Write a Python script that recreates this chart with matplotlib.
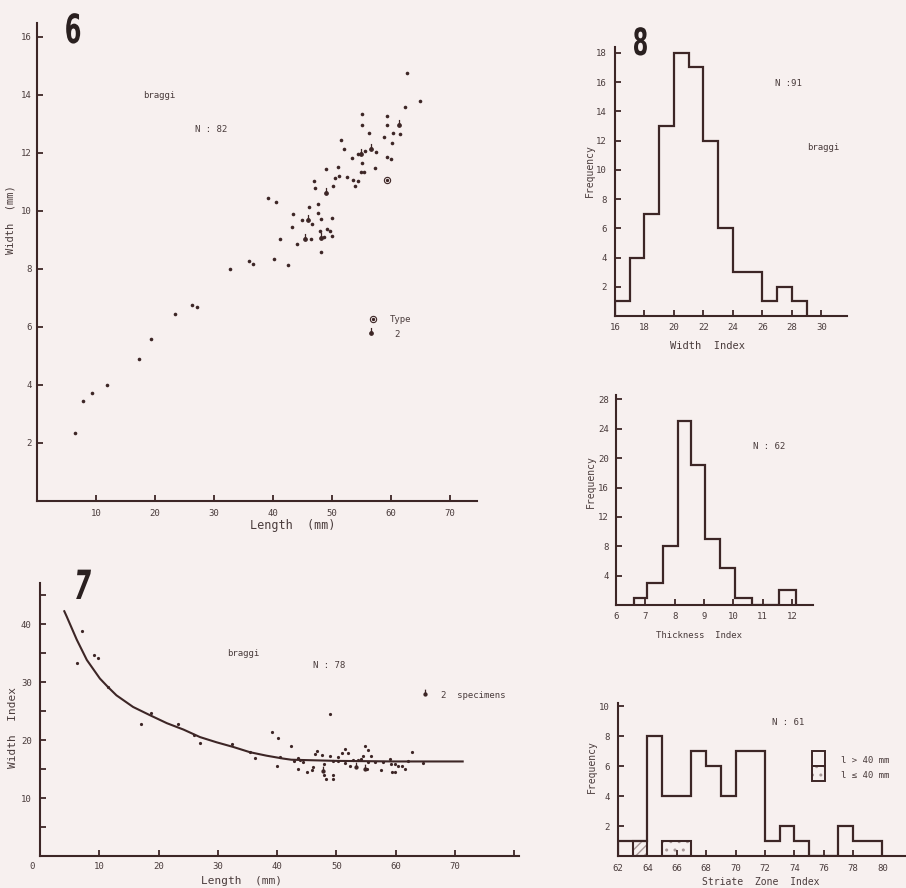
"""Shell measurements for braggi: width/length scatter, width index vs length,
and frequency histograms of width, thickness and striate zone indices."""

import matplotlib.pyplot as plt
import numpy as np
from matplotlib import patheffects
from matplotlib.path import Path
from matplotlib.patches import Rectangle
from matplotlib.transforms import Affine2D

OUT = "out.png"
W, H = 906, 888
BG = "#f7f0ef"
INK = "#3d2626"
TXT = "#4a3c3c"

plt.rcParams["font.family"] = ["DejaVu Sans Mono", "DejaVu Sans"]

# --- Fig. 6: width vs length (mm) ---
pts6 = [(6.4, 2.34), (7.8, 3.45), (9.4, 3.72), (11.8, 4.01), (17.3, 4.89), (19.3, 5.57),
        (23.4, 6.44), (26.3, 6.75), (27.2, 6.68), (32.7, 8.0), (35.9, 8.28), (36.7, 8.17),
        (40.2, 8.34), (41.2, 9.02), (42.5, 8.14), (44.0, 8.86), (39.1, 10.44), (40.6, 10.3),
        (43.4, 9.88), (43.3, 9.46), (62.8, 14.77), (65.0, 13.8), (62.4, 13.58), (55.1, 13.33),
        (59.3, 13.28), (55.1, 12.98), (59.4, 12.97), (56.3, 12.7), (60.4, 12.7), (61.5, 12.67),
        (58.8, 12.56), (51.5, 12.46), (60.2, 12.33), (52.1, 12.15), (55.6, 12.07), (57.5, 12.03),
        (54.4, 11.95), (53.4, 11.83), (59.4, 11.86), (60.0, 11.78), (55.1, 11.64), (51.1, 11.53),
        (49.0, 11.43), (57.3, 11.47), (54.9, 11.33), (55.5, 11.36), (51.2, 11.22), (52.5, 11.16),
        (50.5, 11.13), (53.6, 11.07), (54.5, 11.02), (47.0, 11.02), (53.9, 10.85), (50.2, 10.87),
        (47.2, 10.78), (47.6, 10.23), (46.2, 10.14), (47.7, 9.92), (50.1, 9.76), (45.0, 9.69),
        (48.1, 9.72), (46.6, 9.54), (48.0, 9.32), (49.2, 9.39), (49.7, 9.32), (50.1, 9.13),
        (48.6, 9.1), (46.4, 9.04), (48.1, 8.6)]
pairs6 = [(61.3, 12.98), (56.7, 12.15), (55.0, 11.98), (49.0, 10.61), (46.0, 9.69),
          (48.2, 9.06), (45.5, 9.02)]
type6 = (59.3, 11.07)

# --- Fig. 7: width index vs length, with fitted curve ---
pts7 = [(6.2, 33.3), (7.1, 38.8), (9.1, 34.7), (9.8, 34.1), (11.5, 29.1), (17.1, 22.8),
        (18.7, 24.6), (23.2, 22.7), (25.9, 20.8), (27.0, 19.5), (32.4, 19.3), (35.5, 17.9),
        (36.3, 16.9), (39.2, 21.4), (40.2, 20.4), (40.5, 17.0), (39.9, 15.6), (42.3, 18.9),
        (42.9, 16.3), (43.5, 16.9), (43.6, 15.0), (43.8, 16.5), (44.4, 16.2), (45.0, 14.4),
        (45.8, 14.8), (46.1, 15.3), (46.4, 17.6), (46.8, 18.1), (47.5, 17.5), (47.9, 15.9),
        (47.9, 14.0), (48.3, 13.3), (48.9, 17.3), (48.9, 24.4), (49.4, 16.3), (49.5, 14.0),
        (49.5, 13.3), (50.3, 16.3), (50.3, 17.0), (50.9, 17.7), (51.4, 18.5), (51.4, 16.0),
        (52.0, 17.7), (52.3, 15.6), (52.8, 16.5), (53.7, 16.5), (54.2, 16.8), (54.5, 17.3),
        (54.9, 18.9), (55.3, 18.2), (55.3, 16.2), (55.2, 15.0), (55.9, 17.3), (56.5, 16.2),
        (57.5, 14.8), (57.9, 16.2), (59.0, 16.8), (59.2, 15.9), (59.3, 14.4), (59.9, 14.4),
        (59.9, 15.9), (60.4, 15.6), (61.0, 15.6), (61.6, 15.0), (62.1, 16.3), (62.8, 18.0),
        (64.6, 16.0)]
pairs7 = [(53.3, 15.3), (54.8, 15.0), (47.8, 14.7)]
curve_x = [4.1, 4.5, 6.2, 7.9, 10.1, 11.5, 12.9, 15.7, 18.5, 21.4, 24.2, 27.0, 29.8,
           32.6, 35.4, 38.2, 41.0, 42.4, 50.0, 60.0, 71.3]
curve_y = [42.2, 41.3, 37.3, 33.8, 30.6, 29.1, 27.7, 25.7, 24.3, 22.9, 21.8, 20.5, 19.6,
           18.8, 17.9, 17.3, 16.8, 16.6, 16.4, 16.3, 16.3]

# --- Fig. 8: histograms ---
width_edges = [16, 17, 18, 19, 20, 21, 22, 23, 24, 25, 26, 27, 28, 29]
width_counts = [1, 4, 7, 13, 18, 17, 12, 6, 3, 3, 1, 2, 1]

thick_edges = [6.6, 7.05, 7.6, 8.1, 8.55, 9.05, 9.55, 10.05, 10.65, 11.55, 12.15]
thick_counts = [1, 3, 8, 25, 19, 9, 5, 1, 0, 2]

striate_edges = list(range(62, 81))
striate_counts = [1, 1, 8, 4, 4, 7, 6, 4, 7, 7, 1, 2, 1, 0, 0, 2, 1, 1]
small_left = [63, 65]          # l <= 40 mm
small_right = [64, 67]
small_counts = [1, 1]
small_hatch = ["////", ".."]


class Squeeze(patheffects.AbstractPathEffect):
    """Narrow a text path horizontally about its own centre."""

    def __init__(self, sx):
        super().__init__()
        self.sx = sx

    def draw_path(self, renderer, gc, tpath, affine, rgbFace=None):
        ext = tpath.get_extents(affine)
        cx = 0.5 * (ext.x0 + ext.x1)
        sq = Affine2D().translate(-cx, 0).scale(self.sx, 1).translate(cx, 0)
        renderer.draw_path(gc, tpath, affine + sq, rgbFace)


# dot with a short stem = 2 specimens
_stem = Path.make_compound_path(Path.unit_circle(),
                                Path([(0, 0), (0, 3.2)], [Path.MOVETO, Path.LINETO]))

fig = plt.figure(figsize=(W / 100, H / 100), dpi=100, facecolor=BG)


def add_axes(x0, x1, yb, yt):
    return fig.add_axes([x0 / W, 1 - yb / H, (x1 - x0) / W, (yb - yt) / H])


def style(ax, padx, pady):
    ax.set_facecolor("none")
    for s in ("top", "right"):
        ax.spines[s].set_visible(False)
    for s in ("left", "bottom"):
        ax.spines[s].set_color(INK)
        ax.spines[s].set_linewidth(1.5)
    ax.tick_params(direction="in", length=4, width=1.3, color=INK,
                   labelcolor=TXT, labelsize=6.5)
    ax.tick_params(axis="x", pad=padx)
    ax.tick_params(axis="y", pad=pady)


def label(ax, xlab, xpos, xsize, ylab, ypos, ysize):
    ax.set_xlabel(xlab, fontsize=xsize, color=TXT, va="center")
    ax.xaxis.set_label_coords(xpos[0] / W, 1 - xpos[1] / H, transform=fig.transFigure)
    ax.set_ylabel(ylab, fontsize=ysize, color=TXT, va="center")
    ax.yaxis.set_label_coords(ypos[0] / W, 1 - ypos[1] / H, transform=fig.transFigure)


def note(x, y, s, size=6.5):
    fig.text(x / W, 1 - y / H, s, ha="left", va="center", fontsize=size, color=TXT)


def panel_no(x, y, s, size, sx, style_="normal"):
    fig.text(x / W, 1 - y / H, s, ha="center", va="baseline", fontsize=size,
             family="DejaVu Sans", weight="bold", style=style_, color="#2a2020",
             path_effects=[Squeeze(sx)])


def dots(ax, pts, ms=2.6):
    x, y = np.array(pts).T
    ax.plot(x, y, "o", ms=ms, color=INK, mec="none", clip_on=False)


def pair_marks(ax, pts, ms=8):
    x, y = np.array(pts).T
    ax.plot(x, y, ls="none", marker=_stem, ms=ms, color=INK, mew=0.9, clip_on=False)


# --- Fig. 6 ---
ax6 = add_axes(37, 477, 501, 23)
ax6.set_xlim(0, 74.6)
ax6.set_ylim(0, 16.48)
style(ax6, 6, 4)
ax6.set_xticks(range(10, 80, 10))
ax6.set_yticks(range(2, 18, 2))
dots(ax6, pts6)
pair_marks(ax6, pairs6)
ax6.plot(*type6, "o", ms=4.5, mfc="none", mec=INK, mew=0.8)
ax6.plot(*type6, "o", ms=1.4, color=INK)
ax6.plot(56.9, 6.27, "o", ms=4.5, mfc="none", mec=INK, mew=0.8)
ax6.plot(56.9, 6.27, "o", ms=1.4, color=INK)
pair_marks(ax6, [(56.7, 5.78)])
ax6.text(59.8, 6.27, "Type", fontsize=6.5, color=TXT, va="center")
ax6.text(60.5, 5.75, "2", fontsize=6.5, color=TXT, va="center")
label(ax6, "Length  (mm)", (293, 526), 8.5, "Width  (mm)", (11, 220), 7.5)
note(143, 95, "braggi")
note(195, 130, "N : 82")
panel_no(73, 43, "6", 29, 0.6)

# --- Fig. 7 ---
ax7 = add_axes(40, 519, 856, 583)
ax7.set_xlim(0, 80.8)
ax7.set_ylim(0, 47.07)
style(ax7, 4, 6)
ax7.set_xticks(range(10, 90, 10), [str(v) for v in range(10, 80, 10)] + [""])
ax7.set_yticks(range(5, 50, 5), ["" if v % 10 else str(v) for v in range(5, 50, 5)])
ax7.plot(curve_x, curve_y, color=INK, lw=1.5)
dots(ax7, pts7, ms=2.3)
pair_marks(ax7, pairs7, ms=7)
pair_marks(ax7, [(64.9, 27.9)], ms=7)
ax7.text(67.7, 27.7, "2  specimens", fontsize=6.5, color=TXT, va="center")
label(ax7, "Length  (mm)", (242, 881), 8, "Width  Index", (13, 727), 8)
note(29, 866, "0")
note(227, 653, "braggi")
note(313, 665, "N : 78")
panel_no(82, 599, "7", 29, 0.6, "oblique")

# --- Fig. 8: width index ---
ax8 = add_axes(615, 847, 316, 47)
ax8.set_xlim(16, 31.73)
ax8.set_ylim(0, 18.4)
style(ax8, 5, 6)
ax8.set_xticks(range(16, 32, 2))
ax8.set_yticks(range(2, 20, 2))
ax8.stairs(width_counts, width_edges, color=INK, lw=1.6)
label(ax8, "Width  Index", (708, 346), 7.5, "Frequency", (590, 171), 7)
note(775, 84, "N :91")
note(807, 147, "braggi")
panel_no(640.5, 55, "8", 27, 0.6)

# thickness index
ax9 = add_axes(616, 813, 605, 395)
ax9.set_xlim(6, 12.72)
ax9.set_ylim(0, 28.6)
style(ax9, 5, 5)
ax9.set_xticks(range(6, 13))
ax9.set_yticks(range(4, 29, 4))
ax9.stairs(thick_counts, thick_edges, color=INK, lw=1.6)
label(ax9, "Thickness  Index", (699, 635), 6.5, "Frequency", (591, 482), 7)
note(753, 446, "N : 62")

# striate zone index
ax10 = add_axes(618, 906, 856, 703)
ax10.set_xlim(62, 81.6)
ax10.set_ylim(0, 10.2)
style(ax10, 6, 6)
ax10.set_xticks(range(62, 82, 2))
ax10.set_yticks(range(2, 11, 2))
ax10.stairs(striate_counts, striate_edges, color=INK, lw=1.6)
for x0, x1, c, hp in zip(small_left, small_right, small_counts, small_hatch):
    ax10.add_patch(Rectangle((x0, 0), x1 - x0, c, fill=False, hatch=hp,
                             edgecolor="#a89898", lw=0))
    ax10.add_patch(Rectangle((x0, 0), x1 - x0, c, fill=False, edgecolor=INK, lw=1.5))
ax10.add_patch(Rectangle((75.2, 6), 0.9, 1, fill=False, edgecolor=INK, lw=1.4))
ax10.add_patch(Rectangle((75.2, 5), 0.9, 1, fill=False, hatch="..",
                         edgecolor="#a89898", lw=0))
ax10.add_patch(Rectangle((75.2, 5), 0.9, 1, fill=False, edgecolor=INK, lw=1.4))
ax10.text(77.2, 6.4, "l > 40 mm", fontsize=6.5, color=TXT, va="center")
ax10.text(77.2, 5.4, "l \u2264 40 mm", fontsize=6.5, color=TXT, va="center")
label(ax10, "Striate  Zone  Index", (761, 882), 7, "Frequency", (592, 767), 7)
note(772, 722, "N : 61")

plt.savefig(OUT, dpi=100, facecolor=BG)
print(f"Saved -> {OUT}")
